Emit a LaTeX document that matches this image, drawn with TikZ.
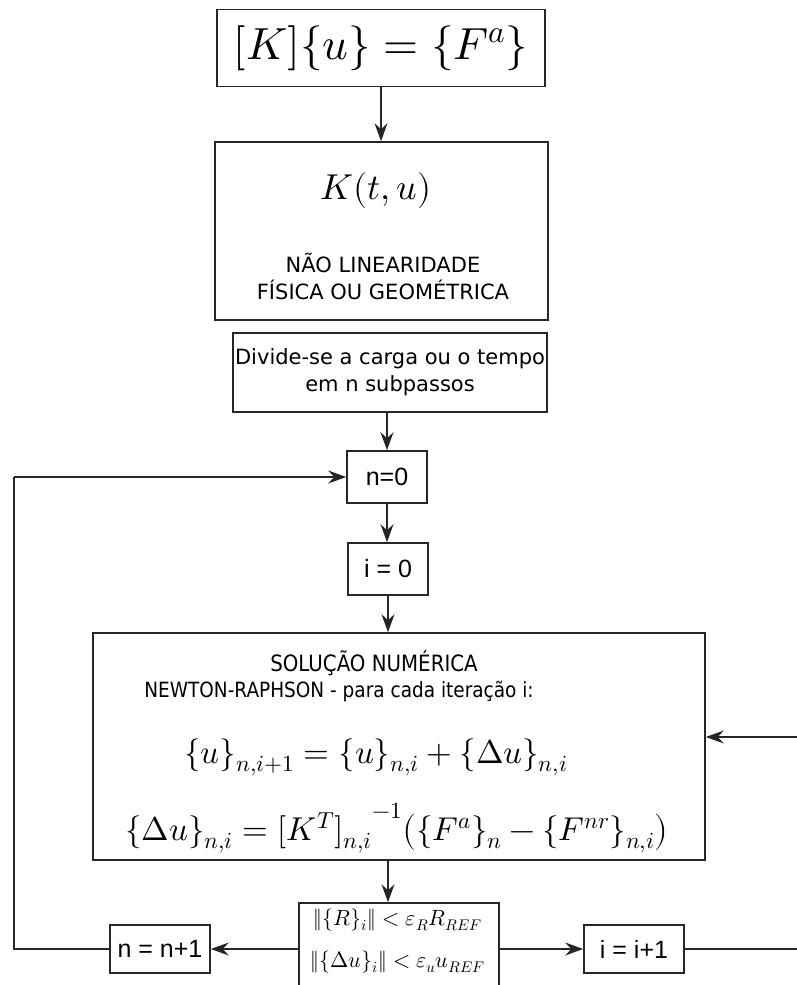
\documentclass[tikz,border=0pt]{standalone}
\usepackage{fontspec}
\usepackage{unicode-math}
\setmainfont{DejaVu Sans}
\setmathfont{Latin Modern Math}
\newfontfamily\plainsans{Liberation Sans}
\newfontfamily\condsans{DejaVu Sans}[FakeStretch=0.88]
\usetikzlibrary{arrows.meta}
\tikzset{
  box/.style={draw=black!85, line width=1.6pt, rectangle, inner sep=0pt, align=center},
  label/.style={inner sep=0pt, align=center},
  link/.style={line width=1.4pt, draw=black!85, -{Stealth[length=18pt,width=13pt,inset=6pt]}},
  wire/.style={line width=1.4pt, draw=black!85},
  bodytext/.style={font=\fontsize{21}{27}\selectfont},
  steptext/.style={font=\plainsans\fontsize{25}{30}\selectfont},
  eqtext/.style={font=\fontsize{33}{40}\selectfont},
  testtext/.style={font=\fontsize{22}{26}\selectfont},
}
\begin{document}
\begin{tikzpicture}[x=1pt,y=-1pt]
\useasboundingbox (0,0) rectangle (797,985);
\clip (0,0) rectangle (797,985);

% equilibrium equation
\node[box, minimum width=328pt, minimum height=77pt] (sys) at (381,48)
  {\fontsize{45}{52}\selectfont $[K]\{u\}=\{F^a\}$};

% stiffness depending on time and displacement
\node[box, minimum width=333pt, minimum height=178pt] (nl) at (381.5,231) {};
\node[label] (kt) at (376,190) {\fontsize{36}{42}\selectfont $K(t,u)$};
\node[label, bodytext] (nltxt) at (383,276) {NÃO LINEARIDADE\\FÍSICA OU GEOMÉTRICA};

% load stepping
\node[box, bodytext, minimum width=314pt, minimum height=79pt] (div) at (390,372.5)
  {Divide-se a carga ou o tempo\\em n subpassos};

% counters
\node[box, steptext, minimum width=80pt, minimum height=52pt] (n0) at (387,477) {n=0};
\node[box, steptext, minimum width=80pt, minimum height=52pt] (i0) at (388,569) {i = 0};

% Newton-Raphson block
\node[box, minimum width=612pt, minimum height=227pt] (nr) at (399,746.5) {};
\node[label, font=\condsans\fontsize{22.5}{26}\selectfont] (nrt1) at (374,663) {SOLUÇÃO NUMÉRICA};
\node[label, font=\condsans\fontsize{21}{26}\selectfont] (nrt2) at (339,692) {NEWTON-RAPHSON - para cada iteração i:};
\node[label, eqtext] (eq1) at (376,757)
  {$\{u\}_{n,i+1}=\{u\}_{n,i}+\{\Delta u\}_{n,i}$};
\node[label, eqtext] (eq2) at (397,828)
  {$\{\Delta u\}_{n,i}={[K^T]_{n,i}}^{-1}\bigl(\{F^a\}_n-\{F^{nr}\}_{n,i}\bigr)$};

% convergence test
\node[box, minimum width=200pt, minimum height=110pt] (conv) at (399,958) {};
\node[label, testtext] (c1) at (398,920)
  {$\|\{R\}_i\|<\varepsilon_R R_{REF}$};
\node[label, testtext] (c2) at (398,962)
  {$\|\{\Delta u\}_i\|<\varepsilon_u u_{REF}$};

% increments
\node[box, steptext, minimum width=100pt, minimum height=48pt] (np1) at (160,949) {n = n+1};
\node[box, steptext, minimum width=100pt, minimum height=48pt] (ip1) at (634,949) {i = i+1};

% loop corners
\coordinate (lb) at (14,949);
\coordinate (lt) at (14,477);
\coordinate (rb) at (820,949);
\coordinate (rt) at (820,737);

% main flow
\draw[link] (sys.south) -- (nl.north -| sys.south);
\draw[link] (div.south -| n0.north) -- (n0.north);
\draw[link] (n0.south) -- (i0.north -| n0.south);
\draw[link] (i0.south) -- (nr.north -| i0.south);
\draw[link] (nr.south -| i0.south) -- (conv.north -| i0.south);
\draw[link] (conv.west |- np1) -- (np1.east);
\draw[link] (conv.east |- ip1) -- (ip1.west);

% outer loop back to n=0
\draw[wire] (np1.west) -- (lb) -- (lt);
\draw[link] (lt) -- (n0.west);

% inner loop back to the solver
\draw[wire] (ip1.east) -- (rb) -- (rt);
\draw[link] (rt) -- (rt -| nr.east);
\end{tikzpicture}
\end{document}
